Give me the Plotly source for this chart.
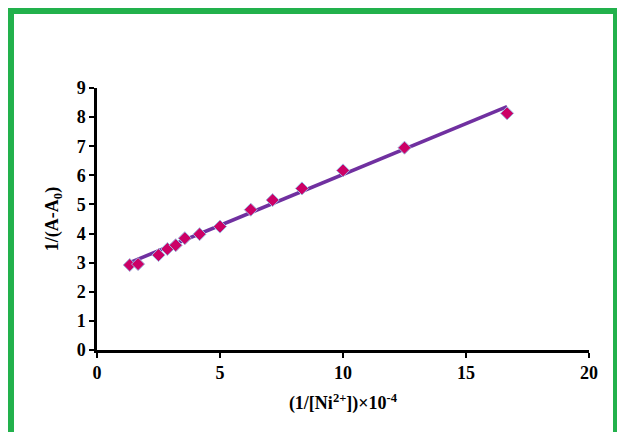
import plotly.graph_objects as go

# Data
x_vals = [1.33, 1.67, 2.5, 2.86, 3.2, 3.57, 4.17, 5.0, 6.25, 7.14, 8.33, 10.0, 12.5, 16.67]
y_vals = [2.92, 2.95, 3.26, 3.47, 3.6, 3.84, 3.98, 4.24, 4.82, 5.15, 5.55, 6.17, 6.95, 8.13]
fit_x = [1.33, 16.67]
fit_y = [3.0, 8.36]

x_ticks = [0, 5, 10, 15, 20]
y_ticks = [0, 1, 2, 3, 4, 5, 6, 7, 8, 9]

W, H = 617, 432
L, R, T, B = 97, 28, 88, 82
pw, ph = W - L - R, H - T - B

def px(x):
    return (x - L) / pw

def py(y):
    return (H - B - y) / ph

font = "Liberation Serif, Times New Roman, serif"
tick_font = dict(family=font, size=18, color="black", weight="bold")
title_font = dict(family=font, size=18, color="black", weight="bold")

fig = go.Figure()
fig.add_trace(go.Scatter(
    x=fit_x, y=fit_y, mode="lines",
    line=dict(color="#7030A0", width=3.6),
    hoverinfo="skip", showlegend=False,
))
fig.add_trace(go.Scatter(
    x=x_vals, y=y_vals, mode="markers",
    marker=dict(symbol="diamond", size=10, color="#CC0066",
                line=dict(color="#9DB8E0", width=1)),
    showlegend=False,
))

fig.update_layout(
    width=W, height=H,
    margin=dict(l=L, r=R, t=T, b=B),
    paper_bgcolor="white", plot_bgcolor="white",
    font=dict(family=font, size=18, color="black"),
    xaxis=dict(
        range=[0, 20], tickvals=x_ticks, showgrid=False, zeroline=False,
        showline=True, linecolor="black", linewidth=2.5,
        ticks="outside", ticklen=5, tickwidth=2, tickcolor="black",
        tickfont=tick_font,
        title=dict(text="(1/[Ni<sup>2+</sup>])×10<sup>-4</sup>",
                   font=title_font, standoff=15),
    ),
    yaxis=dict(
        range=[0, 9], tickvals=y_ticks, showgrid=False, zeroline=False,
        showline=True, linecolor="black", linewidth=2.5,
        ticks="outside", ticklen=5, tickwidth=2, tickcolor="black",
        tickfont=tick_font,
        title=dict(text="1/(A-A<sub>0</sub>)",
                   font=title_font, standoff=14),
    ),
    shapes=[dict(
        type="rect", xref="paper", yref="paper",
        x0=px(11), x1=px(616), y0=py(460), y1=py(11),
        line=dict(color="#22B14C", width=6), fillcolor="rgba(0,0,0,0)",
        layer="above",
    )],
)

fig.write_html("out.html")
